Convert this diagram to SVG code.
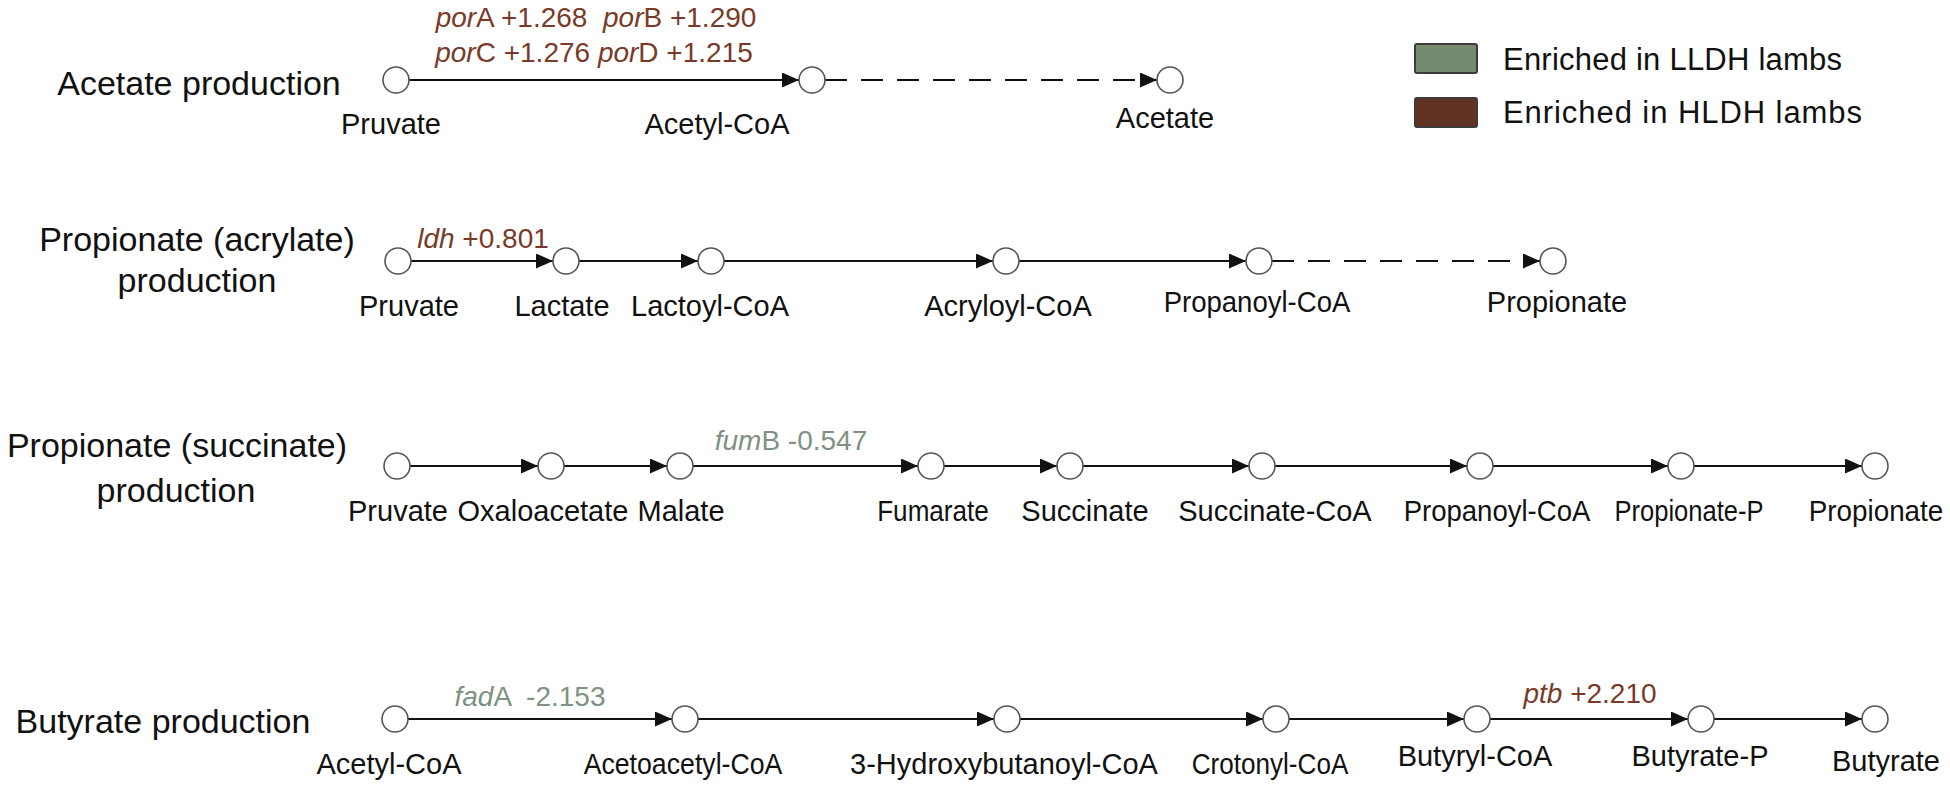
<svg xmlns="http://www.w3.org/2000/svg" width="1950" height="788" viewBox="0 0 1950 788">
<defs>
<marker id="arr" markerUnits="userSpaceOnUse" markerWidth="17" markerHeight="15" refX="17" refY="7.5" orient="auto">
<path d="M0,0 L17,7.5 L0,15 z" fill="#111"/>
</marker>
<style>
.t{font-family:"Liberation Sans",Arial,sans-serif;fill:#111;text-anchor:middle;}
.title{font-size:34px;}
.lab{font-size:29px;}
.leg{font-size:31px;text-anchor:start;}
.gene{font-size:28px;}
.hi{fill:#7a3a28;}
.lo{fill:#7d9282;}
.i{font-style:italic;}
.node{fill:#fff;stroke:#555;stroke-width:1.6;}
.e{stroke:#111;stroke-width:2.2;fill:none;marker-end:url(#arr);}
.d{stroke-dasharray:22 14;}
</style>
</defs>
<rect width="1950" height="788" fill="#fff"/>

<g id="titles">
<text class="t title" x="199" y="95">Acetate production</text>
<text class="t title" x="197" y="251">Propionate (acrylate)</text>
<text class="t title" x="197" y="292">production</text>
<text class="t title" x="177" y="457">Propionate (succinate)</text>
<text class="t title" x="176" y="502">production</text>
<text class="t title" x="163" y="733">Butyrate production</text>
</g>

<g id="legend">
<rect x="1415" y="44" width="62" height="29" rx="2" fill="#758a6e" stroke="#3c3c3c" stroke-width="2"/>
<text class="t leg" x="1503" y="70" textLength="339" lengthAdjust="spacing">Enriched in LLDH lambs</text>
<rect x="1415" y="98" width="62" height="29" rx="2" fill="#623222" stroke="#3c3c3c" stroke-width="2"/>
<text class="t leg" x="1503" y="123" textLength="359" lengthAdjust="spacing">Enriched in HLDH lambs</text>
</g>

<g id="connectors">
<line class="e" x1="409" y1="80" x2="799" y2="80"/>
<line class="e d" x1="825" y1="80" x2="1157" y2="80"/>
<line class="e" x1="411" y1="261" x2="553" y2="261"/>
<line class="e" x1="579" y1="261" x2="698" y2="261"/>
<line class="e" x1="724" y1="261" x2="993" y2="261"/>
<line class="e" x1="1019" y1="261" x2="1246" y2="261"/>
<line class="e d" x1="1272" y1="261" x2="1540" y2="261"/>
<line class="e" x1="410" y1="466" x2="538" y2="466"/>
<line class="e" x1="564" y1="466" x2="667" y2="466"/>
<line class="e" x1="693" y1="466" x2="918" y2="466"/>
<line class="e" x1="944" y1="466" x2="1057" y2="466"/>
<line class="e" x1="1083" y1="466" x2="1249" y2="466"/>
<line class="e" x1="1275" y1="466" x2="1467" y2="466"/>
<line class="e" x1="1493" y1="466" x2="1668" y2="466"/>
<line class="e" x1="1694" y1="466" x2="1862" y2="466"/>
<line class="e" x1="408" y1="719" x2="672" y2="719"/>
<line class="e" x1="698" y1="719" x2="994" y2="719"/>
<line class="e" x1="1020" y1="719" x2="1263" y2="719"/>
<line class="e" x1="1289" y1="719" x2="1464" y2="719"/>
<line class="e" x1="1490" y1="719" x2="1688" y2="719"/>
<line class="e" x1="1714" y1="719" x2="1862" y2="719"/>
</g>

<g id="gene-labels">
<text class="t gene hi" x="596" y="27" xml:space="preserve"><tspan class="i">por</tspan>A +1.268  <tspan class="i">por</tspan>B +1.290</text>
<text class="t gene hi" x="594" y="62"><tspan class="i">por</tspan>C +1.276 <tspan class="i">por</tspan>D +1.215</text>
<text class="t gene hi" x="483" y="248"><tspan class="i">ldh</tspan> +0.801</text>
<text class="t gene lo" x="791" y="450"><tspan class="i">fum</tspan>B -0.547</text>
<text class="t gene lo" x="530" y="706" xml:space="preserve"><tspan class="i">fad</tspan>A  -2.153</text>
<text class="t gene hi" x="1590" y="703"><tspan class="i">ptb</tspan> +2.210</text>
</g>

<g id="r1-pruvate"><circle class="node" cx="396" cy="80" r="13"/><text class="t lab" x="391" y="134">Pruvate</text></g>
<g id="r1-acetylcoa"><circle class="node" cx="812" cy="80" r="13"/><text class="t lab" x="717" y="134">Acetyl-CoA</text></g>
<g id="r1-acetate"><circle class="node" cx="1170" cy="80" r="13"/><text class="t lab" x="1165" y="128">Acetate</text></g>

<g id="r2-pruvate"><circle class="node" cx="398" cy="261" r="13"/><text class="t lab" x="409" y="316">Pruvate</text></g>
<g id="r2-lactate"><circle class="node" cx="566" cy="261" r="13"/><text class="t lab" x="562" y="316">Lactate</text></g>
<g id="r2-lactoylcoa"><circle class="node" cx="711" cy="261" r="13"/><text class="t lab" x="710" y="316">Lactoyl-CoA</text></g>
<g id="r2-acryloylcoa"><circle class="node" cx="1006" cy="261" r="13"/><text class="t lab" x="1008" y="316">Acryloyl-CoA</text></g>
<g id="r2-propanoylcoa"><circle class="node" cx="1259" cy="261" r="13"/><text class="t lab" transform="translate(1257,312) scale(0.95,1)">Propanoyl-CoA</text></g>
<g id="r2-propionate"><circle class="node" cx="1553" cy="261" r="13"/><text class="t lab" x="1557" y="312">Propionate</text></g>

<g id="r3-pruvate"><circle class="node" cx="397" cy="466" r="13"/><text class="t lab" x="398" y="521">Pruvate</text></g>
<g id="r3-oxaloacetate"><circle class="node" cx="551" cy="466" r="13"/><text class="t lab" x="543" y="521">Oxaloacetate</text></g>
<g id="r3-malate"><circle class="node" cx="680" cy="466" r="13"/><text class="t lab" x="681" y="521">Malate</text></g>
<g id="r3-fumarate"><circle class="node" cx="931" cy="466" r="13"/><text class="t lab" transform="translate(933,521) scale(0.9,1)">Fumarate</text></g>
<g id="r3-succinate"><circle class="node" cx="1070" cy="466" r="13"/><text class="t lab" x="1085" y="521">Succinate</text></g>
<g id="r3-succinatecoa"><circle class="node" cx="1262" cy="466" r="13"/><text class="t lab" x="1275" y="521">Succinate-CoA</text></g>
<g id="r3-propanoylcoa"><circle class="node" cx="1480" cy="466" r="13"/><text class="t lab" transform="translate(1497,521) scale(0.95,1)">Propanoyl-CoA</text></g>
<g id="r3-propionatep"><circle class="node" cx="1681" cy="466" r="13"/><text class="t lab" transform="translate(1689,521) scale(0.88,1)">Propionate-P</text></g>
<g id="r3-propionate"><circle class="node" cx="1875" cy="466" r="13"/><text class="t lab" transform="translate(1876,521) scale(0.96,1)">Propionate</text></g>

<g id="r4-acetylcoa"><circle class="node" cx="395" cy="719" r="13"/><text class="t lab" x="389" y="774">Acetyl-CoA</text></g>
<g id="r4-acetoacetylcoa"><circle class="node" cx="685" cy="719" r="13"/><text class="t lab" transform="translate(683,774) scale(0.92,1)">Acetoacetyl-CoA</text></g>
<g id="r4-hydroxybutanoylcoa"><circle class="node" cx="1007" cy="719" r="13"/><text class="t lab" x="1004" y="774">3-Hydroxybutanoyl-CoA</text></g>
<g id="r4-crotonylcoa"><circle class="node" cx="1276" cy="719" r="13"/><text class="t lab" transform="translate(1270,774) scale(0.9,1)">Crotonyl-CoA</text></g>
<g id="r4-butyrylcoa"><circle class="node" cx="1477" cy="719" r="13"/><text class="t lab" x="1475" y="766">Butyryl-CoA</text></g>
<g id="r4-butyratep"><circle class="node" cx="1701" cy="719" r="13"/><text class="t lab" x="1700" y="766">Butyrate-P</text></g>
<g id="r4-butyrate"><circle class="node" cx="1875" cy="719" r="13"/><text class="t lab" x="1886" y="771">Butyrate</text></g>
</svg>
